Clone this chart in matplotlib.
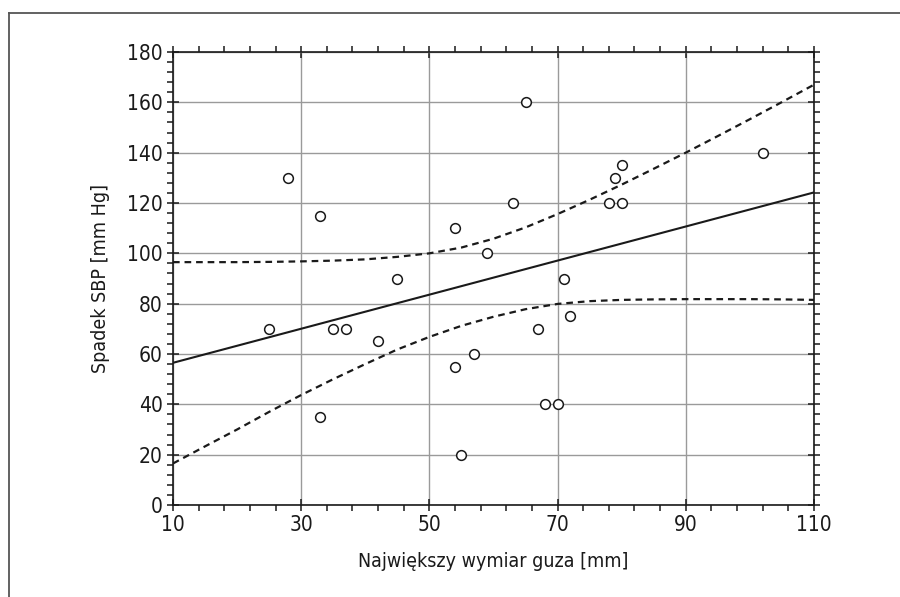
import matplotlib
matplotlib.use('Agg')
import matplotlib.pyplot as plt
from matplotlib.lines import Line2D
from matplotlib.ticker import MultipleLocator

# measured points: tumour size [mm] vs SBP drop [mm Hg]
size_mm = [25, 28, 33, 33, 35, 37, 42, 45, 54, 54, 55, 57, 59, 63, 65,
           67, 68, 70, 71, 72, 78, 79, 80, 80, 102]
sbp_drop = [70, 130, 115, 35, 70, 70, 65, 90, 110, 55, 20, 60, 100, 120, 160,
            70, 40, 40, 90, 75, 120, 130, 135, 120, 140]

# regression line end points
fit_x = [10, 110]
fit_y = [56.5, 124.2]

# confidence band
band_x = [10, 15, 20, 25, 30, 35, 40, 45, 50, 55, 60, 65, 70, 75, 80,
          85, 90, 95, 100, 105, 110]
band_upper = [96.5, 96.5, 96.5, 96.6, 96.8, 97.1, 97.6, 98.6, 100, 102.3,
              105.8, 110.3, 115.6, 121.3, 127.3, 133.6, 140, 146.6, 153.3,
              160.1, 167]
band_lower = [16.5, 23.3, 30, 37, 43.7, 50, 56, 61.8, 66.8, 71.2, 74.8, 77.8,
              79.9, 81.0, 81.5, 81.7, 81.8, 81.8, 81.8, 81.7, 81.5]

xticks = [10, 30, 50, 70, 90, 110]

plt.rcParams['font.family'] = ['DejaVu Sans']
plt.rcParams['font.stretch'] = 'condensed'

fig = plt.figure(figsize=(9, 5.97), dpi=100)
ax = fig.add_axes([0.1922, 0.1541, 0.7122, 0.7588])

ax.grid(True, which='major', color='#9a9a9a', linewidth=1)
ax.set_axisbelow(True)

ax.plot(fit_x, fit_y, color='#1a1a1a', linewidth=1.5, zorder=3)
ax.plot(band_x, band_upper, color='#1a1a1a', linewidth=1.6,
        linestyle=(0, (3, 2.2)), zorder=3)
ax.plot(band_x, band_lower, color='#1a1a1a', linewidth=1.6,
        linestyle=(0, (3, 2.2)), zorder=3)
ax.plot(size_mm, sbp_drop, 'o', markersize=7, markerfacecolor='white',
        markeredgecolor='#1a1a1a', markeredgewidth=1.1, zorder=4)

ax.set_xlim(10, 110)
ax.set_ylim(0, 180)
ax.set_xticks(xticks)
ax.xaxis.set_minor_locator(MultipleLocator(4, offset=2))
ax.yaxis.set_major_locator(MultipleLocator(20))
ax.yaxis.set_minor_locator(MultipleLocator(4))

ax.tick_params(which='both', top=True, right=True, labeltop=False,
               labelright=False, colors='#1a1a1a', labelsize=15)
ax.tick_params(which='major', direction='inout', length=9, width=1.1, pad=3)
ax.tick_params(which='minor', direction='out', length=4, width=1.1)

for sp in ax.spines.values():
    sp.set_linewidth(1.2)
    sp.set_color('#1a1a1a')

ax.set_xlabel('Największy wymiar guza [mm]', fontsize=14, color='#1a1a1a',
              labelpad=12)
ax.set_ylabel('Spadek SBP [mm Hg]', fontsize=14, color='#1a1a1a', labelpad=12)

# frame lines on the left and top of the figure
fig.add_artist(Line2D([0.01, 0.01], [0, 0.978], color='#555555', linewidth=1.3))
fig.add_artist(Line2D([0.01, 1.0], [0.978, 0.978], color='#555555',
                      linewidth=1.3))

fig.savefig('out.png', dpi=100)
